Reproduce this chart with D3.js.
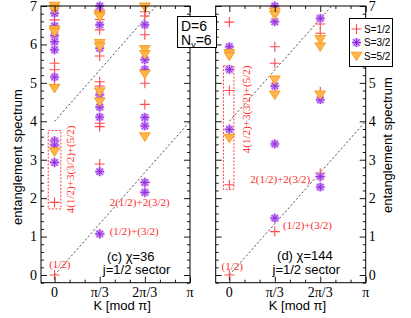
<!DOCTYPE html>
<html>
<head>
<meta charset="utf-8">
<script src="https://cdn.jsdelivr.net/npm/d3@7"></script>
<style>
body { margin: 0; background: #fff; }
svg { display: block; }
</style>
</head>
<body>
<div id="chart"></div>
<script>
///////////////////////////
// DATA  (K in units of pi/3, level = entanglement energy)
///////////////////////////

const kTicks = [0, 1, 2, 3];
const kLabels = ['0', 'π/3', '2π/3', 'π'];
const levelTicks = [0, 1, 2, 3, 4, 5, 6, 7];

// panel (c), chi = 36
const cHalf = [
    [0, 6.92], [0, 6.64], [0, 5.51], [0, 5.34], [0, 4.95], [0, 3.49], [0, 3.38], [0, 2.93], [0, 1.89], [0, 0],
    [1, 6.90], [1, 6.65], [1, 6.38], [1, 5.70], [1, 5.03], [1, 4.92], [1, 3.95], [1, 3.86], [1, 2.89], [1, 1.07],
    [2, 6.85], [2, 6.74], [2, 6.25], [2, 5.62], [2, 4.99], [2, 4.44], [2, 2.41], [2, 2.15]
];
const cThreeHalf = [
    [0, 6.81], [0, 6.48], [0, 6.23], [0, 6.07], [0, 5.86], [0, 5.15], [0, 3.49], [0, 3.38], [0, 2.93],
    [1, 7.00], [1, 6.51], [1, 5.90], [1, 4.69], [1, 4.37], [1, 4.11], [1, 2.69], [1, 1.07],
    [2, 6.51], [2, 5.60], [2, 5.35], [2, 4.10], [2, 3.88], [2, 2.41], [2, 2.15]
];
const cFiveHalf = [
    [0, 7.00], [0, 6.92], [0, 6.38], [0, 6.32], [0, 4.86], [0, 3.21],
    [1, 6.77], [1, 6.72], [1, 6.03], [1, 5.94], [1, 4.77], [1, 4.51],
    [2, 6.98], [2, 5.87], [2, 5.74], [2, 5.23], [2, 3.60]
];

// panel (d), chi = 144
const dHalf = [
    [0, 6.58], [0, 4.80], [0, 3.79], [0, 2.35], [0, 0],
    [1, 5.94], [1, 5.51], [1, 1.13],
    [2, 6.53], [2, 6.29], [2, 4.77], [2, 2.65], [2, 2.56]
];
const dThreeHalf = [
    [0, 5.94], [0, 5.35], [0, 3.79],
    [1, 7.00], [1, 6.59], [1, 4.92], [1, 3.41], [1, 1.48],
    [2, 6.68], [2, 4.56], [2, 2.56], [2, 2.29]
];
const dFiveHalf = [
    [0, 5.77], [0, 5.70], [0, 3.56],
    [1, 6.85], [1, 6.77], [1, 5.08], [1, 4.69],
    [2, 6.13], [2, 5.94], [2, 4.69]
];

// dashed guide lines: level = intercept + slope * K
const guideIntercepts = [0, 4];
const guideSlope = 4 / 3;   // 4/pi per K -> per (pi/3)

const seriesNames = ['S=1/2', 'S=3/2', 'S=5/2'];

// annotations: [text, K, level, vertical]
const cNotes = [
    ['(1/2)', -0.12, 0.29, false],
    ['(1/2)+(3/2)', 1.22, 1.13, false],
    ['2(1/2)+2(3/2)', 1.22, 1.89, false],
    ['4(1/2)+3(3/2)+(5/2)', 0.34, 1.61, true]
];
const dNotes = [
    ['(1/2)', -0.17, 0.22, false],
    ['(1/2)+(3/2)', 1.18, 1.30, false],
    ['2(1/2)+2(3/2)', 0.46, 2.49, false],
    ['4(1/2)+3(3/2)+(5/2)', 0.37, 3.17, true]
];
// dashed boxes: [k0, k1, level0, level1]
const cBox = [-0.14, 0.14, 1.72, 3.76];
const dBox = [-0.13, 0.10, 2.23, 5.44];

///////////////////////////
// DRAW
///////////////////////////

const width = 411;
const height = 318;
const plotTop = 6;
const plotBottom = 282.7;

const svg = d3.select('#chart')
    .append('svg')
    .attr('width', width)
    .attr('height', height)
    .style('font-family', 'Liberation Sans, Arial, sans-serif');

const red = '#ff4a4a';
const noteRed = '#ff2b2b';
const purple = '#8f2bdf';
const lilac = '#cf94f5';
const orange = '#ffb54a';
const orangeEdge = '#f39412';

const plusPath = (r) => `M${-r},0H${r}M0,${-r}V${r}`;
const starPath = (r) => {
    const d = r * 0.72;
    return `M${-r},0H${r}M0,${-r}V${r}M${-d},${-d}L${d},${d}M${-d},${d}L${d},${-d}`;
};
const triPath = (w, h) => `M${-w},${-h * 0.45}L${w},${-h * 0.45}L0,${h * 0.55}Z`;

const drawMarkers = (g, data, kind, x, y) => {
    const sel = g.append('g').selectAll('g')
        .data(data)
        .enter().append('g')
        .attr('transform', (d) => `translate(${x(d[0])},${y(d[1])})`);
    if (kind === 0) {
        sel.append('path').attr('d', plusPath(5))
            .attr('stroke', red).attr('stroke-width', 1.1).attr('fill', 'none');
    } else if (kind === 1) {
        sel.append('path').attr('d', starPath(4.6))
            .attr('stroke', lilac).attr('stroke-width', 2.6).attr('fill', 'none');
        sel.append('path').attr('d', starPath(4.2))
            .attr('stroke', purple).attr('stroke-width', 1).attr('fill', 'none');
    } else {
        sel.append('path').attr('d', triPath(5.4, 8.6))
            .attr('fill', orange).attr('stroke', orangeEdge).attr('stroke-width', 0.8);
    }
};

const drawPanel = (opts) => {
    const x = d3.scaleLinear().domain([-0.3, 3]).range([opts.left, opts.right]);
    const y = d3.scaleLinear().domain([-0.2, 7]).range([plotBottom, plotTop]);
    const g = svg.append('g');

    const clipId = 'clip' + opts.id;
    svg.append('clipPath').attr('id', clipId)
        .append('rect')
        .attr('x', opts.left).attr('y', plotTop)
        .attr('width', opts.right - opts.left).attr('height', plotBottom - plotTop);

    // guide lines
    g.append('g').attr('clip-path', `url(#${clipId})`)
        .selectAll('line')
        .data(guideIntercepts)
        .enter().append('line')
        .attr('x1', x(0)).attr('y1', (d) => y(d))
        .attr('x2', x(3)).attr('y2', (d) => y(d + guideSlope * 3))
        .attr('stroke', '#444')
        .attr('stroke-width', 0.9)
        .attr('stroke-dasharray', '2.2,2');

    // dashed box
    const b = opts.box;
    g.append('rect')
        .attr('x', x(b[0])).attr('y', y(b[3]))
        .attr('width', x(b[1]) - x(b[0]))
        .attr('height', y(b[2]) - y(b[3]))
        .attr('fill', 'none')
        .attr('stroke', noteRed)
        .attr('stroke-width', 0.9)
        .attr('stroke-dasharray', '2,1.5');

    opts.series.forEach((s, i) => drawMarkers(g, s, i, x, y));

    // axes, ticks inside on all four sides
    const minorY = d3.range(-0.2, 7.001, 0.2).filter((v) => Math.abs(v - Math.round(v)) > 0.01);
    const minorX = d3.range(1, 9).map((v) => v / 3).filter((v) => v % 1 !== 0);
    const tickAxis = (axis, scale, vals, size) => axis(scale).tickValues(vals).tickSize(size).tickFormat('');
    const put = (axis, tx, ty) => {
        const a = g.append('g').attr('transform', `translate(${tx},${ty})`).call(axis);
        a.select('.domain').remove();
        a.selectAll('line').attr('stroke', '#000').attr('stroke-width', 0.9);
    };
    put(tickAxis(d3.axisLeft, y, levelTicks, -6), opts.left, 0);
    put(tickAxis(d3.axisLeft, y, minorY, -3), opts.left, 0);
    put(tickAxis(d3.axisRight, y, levelTicks, -6), opts.right, 0);
    put(tickAxis(d3.axisRight, y, minorY, -3), opts.right, 0);
    put(tickAxis(d3.axisBottom, x, kTicks, -6), 0, plotBottom);
    put(tickAxis(d3.axisBottom, x, minorX, -3), 0, plotBottom);
    put(tickAxis(d3.axisTop, x, kTicks, -6), 0, plotTop);
    put(tickAxis(d3.axisTop, x, minorX, -3), 0, plotTop);

    g.append('rect')
        .attr('x', opts.left).attr('y', plotTop)
        .attr('width', opts.right - opts.left).attr('height', plotBottom - plotTop)
        .attr('fill', 'none').attr('stroke', '#000').attr('stroke-width', 1);

    // tick labels
    g.append('g').selectAll('text')
        .data(levelTicks)
        .enter().append('text')
        .attr('x', opts.labelsLeft ? opts.left - 4 : opts.right + 3)
        .attr('y', (d) => y(d))
        .attr('dy', '0.35em')
        .attr('text-anchor', opts.labelsLeft ? 'end' : 'start')
        .style('font-family', 'Liberation Serif, Times New Roman, serif')
        .style('font-size', '14px')
        .text((d) => d);

    g.append('g').selectAll('text')
        .data(kTicks)
        .enter().append('text')
        .attr('x', (d) => x(d))
        .attr('y', 297)
        .attr('text-anchor', 'middle')
        .style('font-family', 'Liberation Serif, Times New Roman, serif')
        .style('font-size', '14px')
        .text((d, i) => kLabels[i]);

    g.append('text')
        .attr('x', x(1.5)).attr('y', 310)
        .attr('text-anchor', 'middle')
        .style('font-size', '13px')
        .text('K [mod π]');

    g.append('text')
        .attr('transform', `translate(${opts.yLabelX},${opts.yLabelY}) rotate(-90)`)
        .attr('text-anchor', 'middle')
        .style('font-size', '13px')
        .text('entanglement spectrum');

    // red annotations
    g.append('g').selectAll('text')
        .data(opts.notes)
        .enter().append('text')
        .attr('transform', (d) => `translate(${x(d[1])},${y(d[2])})` + (d[3] ? ' rotate(-90)' : ''))
        .attr('dy', '0.35em')
        .attr('fill', noteRed)
        .style('font-family', 'Liberation Serif, Times New Roman, serif')
        .style('font-size', '11px')
        .text((d) => d[0]);

    g.append('text')
        .attr('x', x(opts.title[1])).attr('y', y(opts.title[2]))
        .style('font-size', '13px')
        .text(opts.title[0]);
    g.append('text')
        .attr('x', x(opts.sector[0])).attr('y', y(opts.sector[1]))
        .style('font-size', '13px')
        .text('j=1/2 sector');

    return { x, y };
};

drawPanel({
    id: 'c', left: 41, right: 190, labelsLeft: true,
    yLabelX: 22, yLabelY: 157,
    series: [cHalf, cThreeHalf, cFiveHalf],
    notes: cNotes, box: cBox,
    title: ['(c) χ=36', 1.16, 0.37], sector: [1.07, 0.03]
});

drawPanel({
    id: 'd', left: 215.7, right: 365.7, labelsLeft: false,
    yLabelX: 392, yLabelY: 145,
    series: [dHalf, dThreeHalf, dFiveHalf],
    notes: dNotes, box: dBox,
    title: ['(d) χ=144', 1.05, 0.39], sector: [0.95, 0.03]
});

// D / Nv box
const info = svg.append('g');
info.append('rect')
    .attr('x', 177.5).attr('y', 16.5)
    .attr('width', 39).attr('height', 31)
    .attr('fill', '#fff').attr('stroke', '#000').attr('stroke-width', 1);
info.append('text')
    .attr('x', 181).attr('y', 31)
    .style('font-size', '14px')
    .text('D=6');
const nv = info.append('text')
    .attr('x', 181).attr('y', 44.5)
    .style('font-size', '14px');
nv.append('tspan').text('N');
nv.append('tspan').attr('dy', 3).style('font-size', '9px').text('v');
nv.append('tspan').attr('dy', -3).text('=6');

// legend
const legend = svg.append('g');
legend.append('rect')
    .attr('x', 349.5).attr('y', 18.5)
    .attr('width', 43).attr('height', 48)
    .attr('fill', '#fff').attr('stroke', '#000').attr('stroke-width', 1);
const entry = legend.selectAll('.entry')
    .data(seriesNames)
    .enter().append('g')
    .attr('class', 'entry')
    .attr('transform', (d, i) => `translate(356.5,${29 + i * 13.5})`);
entry.filter((d, i) => i === 0).append('path').attr('d', plusPath(5))
    .attr('stroke', red).attr('stroke-width', 1.1);
entry.filter((d, i) => i === 1).append('path').attr('d', starPath(4.6))
    .attr('stroke', lilac).attr('stroke-width', 2.6);
entry.filter((d, i) => i === 1).append('path').attr('d', starPath(4.2))
    .attr('stroke', purple).attr('stroke-width', 1);
entry.filter((d, i) => i === 2).append('path').attr('d', triPath(5.4, 8.6))
    .attr('fill', orange).attr('stroke', orangeEdge).attr('stroke-width', 0.8);
entry.append('text')
    .attr('x', 7.5).attr('dy', '0.35em')
    .style('font-size', '10px')
    .text((d) => d);
</script>
</body>
</html>
